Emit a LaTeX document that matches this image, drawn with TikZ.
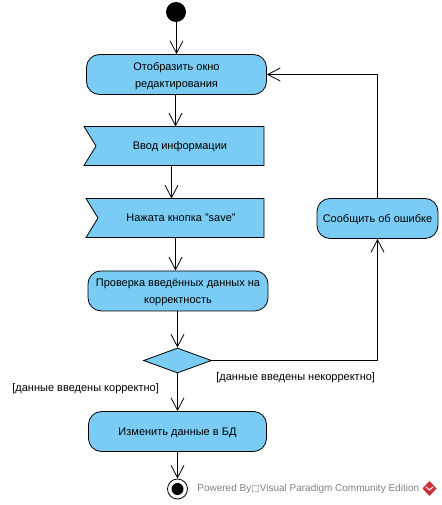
\documentclass[tikz,border=0pt]{standalone}
\usepackage{fontspec}
\setmainfont{Liberation Sans}
\newfontfamily\symfont{DejaVu Sans}
\usetikzlibrary{arrows.meta,shapes.geometric,shapes.symbols,positioning}
\definecolor{actblue}{HTML}{7ACCF5}
\definecolor{logored}{HTML}{C8323C}
\begin{document}
\begin{tikzpicture}[x=1pt,y=-1pt,node distance=32pt,line width=0.8pt,>={Straight Barb[length=12.5pt,width=13pt]},font=\fontsize{11}{17}\selectfont]
        \tikzstyle{action}=[rectangle,rounded corners=13pt,draw=black,fill=actblue,minimum width=180pt,minimum height=40pt,align=center,inner sep=0pt,text depth=0pt]
        \tikzstyle{event}=[signal,signal from=west,signal to=nowhere,signal pointer angle=117,draw=black,fill=actblue,minimum width=180pt,minimum height=39pt,inner sep=0pt,outer sep=0pt,text depth=0pt]
        \tikzstyle{start}=[circle,fill=black,minimum size=20pt,inner sep=0pt]
        \tikzstyle{guard}=[inner sep=0pt,anchor=west]
        \tikzstyle{flow}=[->,black]

        \useasboundingbox (0,0) rectangle (441,505);

        \node [start] (init) at (176,12) {}; %start
        \node [action] (show) at (176.5,74.5) {Отобразить окно\\редактирования};
        \node [event] (input) at (180,146) {Ввод информации};
        \node [event, minimum width=178pt] (press) at (181,218) {Нажата кнопка "save"};
        \node [action] (check) [below=33pt of press, xshift=-3pt] {Проверка введённых данных на\\корректность};
        \node [diamond,draw=black,fill=actblue,inner sep=0pt,minimum width=68pt,minimum height=25pt,aspect=2.7] (test) at (177.5,360.5) {};
        \node [action, minimum width=178pt] (save) at (177.5,431.5) {Изменить данные в БД};
        \node [circle,draw=black,fill=white,minimum size=20pt,inner sep=0pt] (final) at (177.5,489) {}; %end
        \node [circle,fill=black,minimum size=12pt,inner sep=0pt] (finaldot) at (final) {};
        \node [action, minimum width=121pt] (error) at (377.5,218.5) {Сообщить об ошибке};

        \node [guard] (ok) at (12,389) {[данные введены корректно]};
        \node [guard] (bad) at (216,378) {[данные введены некорректно]};

        \draw [flow] (init.south -| 176.5,0) -- (show.north -| 176.5,0);
        \draw [flow] (show.south -| 175.5,0) -- (input.north -| 175.5,0);
        \draw [flow] (input.south -| 171.5,0) -- (press.north -| 171.5,0);
        \draw [flow] (press.south -| 175.5,0) -- (check.north -| 175.5,0);
        \draw [flow] (check.south -| test) -- (test);
        \draw [flow] (test) -- (save);
        \draw [flow] (save.south -| final) -- (final);
        \draw [flow] (test.east) -| (error.south);
        \draw [flow] (error.north) |- (show.east);

        % watermark
        \node [anchor=west,inner sep=0pt,text=black!50,font=\fontsize{10}{12}\selectfont] (mark) at (197,488.5) {Powered By{\symfont\fontsize{9}{12}\selectfont □}Visual Paradigm Community Edition};
        \fill [logored] (429.5,481) -- (436.5,488.5) -- (429.5,496) -- (422.5,488.5) -- cycle;
        \draw [white,line width=1pt] (426,487) -- (429.5,490) -- (433,487);
\end{tikzpicture}
\end{document}
